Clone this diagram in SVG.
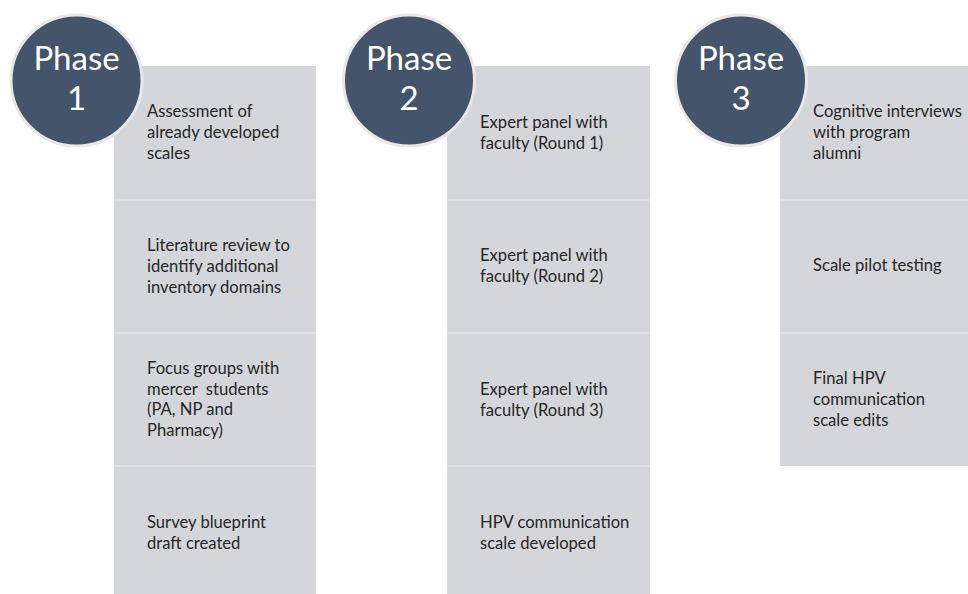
<svg xmlns="http://www.w3.org/2000/svg" width="968" height="594" viewBox="0 0 968 594">
  <style>
    .col { fill: #d5d6d9; }
    .sep { stroke: #e0e1e3; stroke-width: 1.5; }
    .badge { fill: #44546a; stroke: #e8e8e8; stroke-width: 3; }
    .badge-text { font-family: Lato, "Open Sans", sans-serif; font-size: 33px; fill: #ffffff; text-anchor: middle; }
    .step { font-family: Lato, "Open Sans", sans-serif; font-size: 16.6px; fill: #262626; }
  </style>
  <rect width="968" height="594" fill="#ffffff"/>

  <!-- Phase 1 column -->
  <g id="phase1-steps">
    <rect class="col" x="114" y="66" width="202" height="534"/>
    <line class="sep" x1="114" y1="200" x2="316" y2="200"/>
    <line class="sep" x1="114" y1="333" x2="316" y2="333"/>
    <line class="sep" x1="114" y1="466" x2="316" y2="466"/>
  </g>
  <g id="p1-step1">
    <text class="step" x="147" y="117">Assessment of</text>
    <text class="step" x="147" y="138">already developed</text>
    <text class="step" x="147" y="159">scales</text>
  </g>
  <g id="p1-step2">
    <text class="step" x="147" y="251">Literature review to</text>
    <text class="step" x="147" y="272">identify additional</text>
    <text class="step" x="147" y="293">inventory domains</text>
  </g>
  <g id="p1-step3">
    <text class="step" x="147" y="374">Focus groups with</text>
    <text class="step" x="147" y="395" xml:space="preserve">mercer  students</text>
    <text class="step" x="147" y="415">(PA, NP and</text>
    <text class="step" x="147" y="436">Pharmacy)</text>
  </g>
  <g id="p1-step4">
    <text class="step" x="147" y="528">Survey blueprint</text>
    <text class="step" x="147" y="549">draft created</text>
  </g>
  <g id="phase1-badge">
    <circle class="badge" cx="76.5" cy="80.5" r="65.5"/>
    <text class="badge-text" x="76.5" y="70">Phase</text>
    <text class="badge-text" x="76.5" y="110">1</text>
  </g>

  <!-- Phase 2 column -->
  <g id="phase2-steps">
    <rect class="col" x="447" y="66" width="203" height="534"/>
    <line class="sep" x1="447" y1="200" x2="650" y2="200"/>
    <line class="sep" x1="447" y1="333" x2="650" y2="333"/>
    <line class="sep" x1="447" y1="466" x2="650" y2="466"/>
  </g>
  <g id="p2-step1">
    <text class="step" x="480" y="128">Expert panel with</text>
    <text class="step" x="480" y="149">faculty (Round 1)</text>
  </g>
  <g id="p2-step2">
    <text class="step" x="480" y="261">Expert panel with</text>
    <text class="step" x="480" y="282">faculty (Round 2)</text>
  </g>
  <g id="p2-step3">
    <text class="step" x="480" y="395">Expert panel with</text>
    <text class="step" x="480" y="416">faculty (Round 3)</text>
  </g>
  <g id="p2-step4">
    <text class="step" x="480" y="528">HPV communication</text>
    <text class="step" x="480" y="549">scale developed</text>
  </g>
  <g id="phase2-badge">
    <circle class="badge" cx="409" cy="80.5" r="65.5"/>
    <text class="badge-text" x="409" y="70">Phase</text>
    <text class="badge-text" x="409" y="110">2</text>
  </g>

  <!-- Phase 3 column -->
  <g id="phase3-steps">
    <rect class="col" x="780" y="66" width="200" height="400"/>
    <line class="sep" x1="780" y1="200" x2="968" y2="200"/>
    <line class="sep" x1="780" y1="333" x2="968" y2="333"/>
  </g>
  <g id="p3-step1">
    <text class="step" x="813" y="117">Cognitive interviews</text>
    <text class="step" x="813" y="138">with program</text>
    <text class="step" x="813" y="159">alumni</text>
  </g>
  <g id="p3-step2">
    <text class="step" x="813" y="271">Scale pilot testing</text>
  </g>
  <g id="p3-step3">
    <text class="step" x="813" y="384">Final HPV</text>
    <text class="step" x="813" y="405">communication</text>
    <text class="step" x="813" y="426">scale edits</text>
  </g>
  <g id="phase3-badge">
    <circle class="badge" cx="741" cy="80.5" r="65.5"/>
    <text class="badge-text" x="741" y="70">Phase</text>
    <text class="badge-text" x="741" y="110">3</text>
  </g>

  <!-- no connectors between phases -->
  <g id="connectors"/>
</svg>
